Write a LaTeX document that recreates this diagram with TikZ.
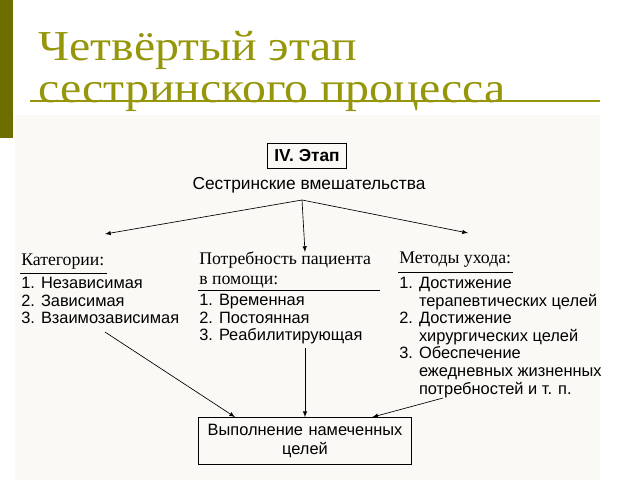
\documentclass[tikz,border=0pt]{standalone}
\usepackage{fontspec}
\setmainfont{Liberation Serif}
\setsansfont{Liberation Sans}
\definecolor{olive1}{RGB}{150,150,10}
\definecolor{bar1}{RGB}{110,110,0}
\definecolor{paper}{RGB}{250,249,245}
\tikzset{
  box/.style={draw,line width=0.9pt,inner sep=5pt},
  txt/.style={anchor=north west,inner sep=0.75pt,font=\sffamily\fontsize{12.3}{13.2}\selectfont,align=left},
  head/.style={anchor=north west,inner sep=0.75pt,font=\rmfamily\fontsize{13.3}{14.5}\selectfont,align=left},
  arr/.style={-latex,line width=0.5pt}
}
\begin{document}
\begin{tikzpicture}[x=0.75pt,y=0.75pt,yscale=-1,xscale=1]
\useasboundingbox (0,0) rectangle (640,480);
\fill[white] (0,0) rectangle (640,480);
\fill[paper] (15,115) rectangle (600,480);
\fill[bar1] (0,0) rectangle (13,138);
%title
\node[anchor=west,inner sep=0pt,text=olive1,xscale=1.12,font=\fontsize{32}{36}\selectfont] (t1) at (38,50) {Четвёртый этап};
\node[anchor=west,inner sep=0pt,text=olive1,xscale=1.12,font=\fontsize{32}{36}\selectfont] (t2) at (38,97) {сестринского процесса};
\draw[olive1,line width=0.8pt] (30,101) -- (600,101);

% Top box
\node[box,font=\sffamily\bfseries\fontsize{13}{14}\selectfont] (etap) at (307,156) {IV. Этап};
\node[inner sep=1pt,font=\sffamily\fontsize{13}{14}\selectfont] (vmesh) at (309,185) {Сестринские вмешательства};
\coordinate (split) at (302,200);
\coordinate (lend) at (105,234);
\coordinate (mend) at (305,252);
\coordinate (rend) at (468,233);
\draw[arr] (split) -- (lend);
\draw[arr] (split) -- (mend);
\draw[arr] (split) -- (rend);

% Text Node
\node[head] (kat) at (20,253) {Категории:};
\draw (20,273) -- (107,273);
\node[txt] (katl) at (20,276) {1. Независимая\\2. Зависимая\\3. Взаимозависимая};
% Text Node
\node[head] (potr) at (198,251) {Потребность пациента\\в помощи:};
\draw (198,290) -- (380,290);
\node[txt] (potrl) at (198,293) {1. Временная\\2. Постоянная\\3. Реабилитирующая};
% Text Node
\node[head] (met) at (398,251) {Методы ухода:};
\draw (398,272) -- (513,272);
\node[txt] (metl) at (398,276) {1. Достижение\\\phantom{1. }терапевтических целей\\2. Достижение\\\phantom{2. }хирургических целей\\3. Обеспечение\\\phantom{3. }ежедневных жизненных\\\phantom{3. }потребностей и т. п.};

% Bottom box
\node[box,text width=150pt,align=center,font=\sffamily\fontsize{12.3}{14}\selectfont] (vyp) at (305,441) {Выполнение намеченных\\целей};
\coordinate (a1) at (105,332);
\coordinate (a2) at (305,348);
\coordinate (a3) at (443,398);
\draw[arr] (a1) -- ([xshift=28pt]vyp.north west);
\draw[arr] (a2) -- (vyp.north -| a2);
\draw[arr] (a3) -- ([xshift=-30pt]vyp.north east);
\end{tikzpicture}
\end{document}
